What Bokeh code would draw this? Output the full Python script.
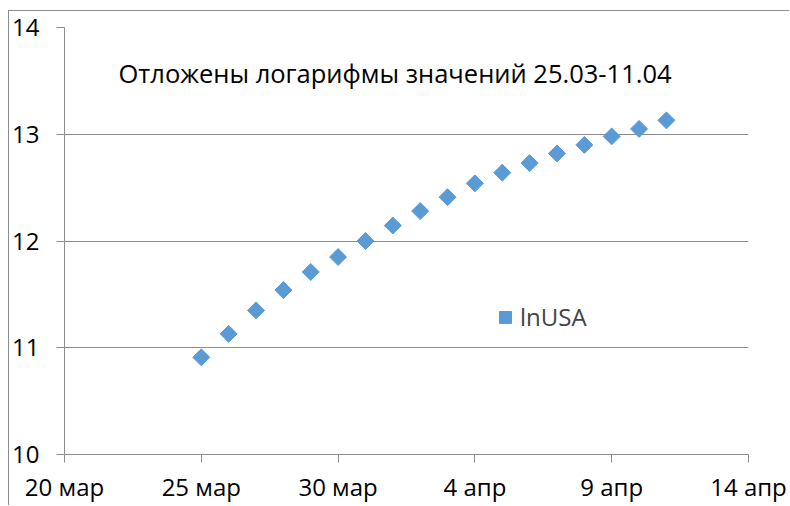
from datetime import datetime, timedelta
import numpy as np
from bokeh.plotting import figure
from bokeh.models import (Range1d, FixedTicker, Label, Legend, LegendItem,
                          ColumnDataSource)
from bokeh.embed import file_html
from bokeh.resources import INLINE

# ---- data ----
start_date = datetime(2020, 3, 25)
dates = [start_date + timedelta(days=i) for i in range(18)]
ln_usa = [10.91, 11.13, 11.35, 11.54, 11.71, 11.85, 12.00, 12.145, 12.28,
          12.41, 12.54, 12.64, 12.73, 12.82, 12.90, 12.98, 13.05, 13.13]
x_tick_dates = [datetime(2020, 3, 20), datetime(2020, 3, 25), datetime(2020, 3, 30),
                datetime(2020, 4, 4), datetime(2020, 4, 9), datetime(2020, 4, 14)]
x_tick_labels = ["20 мар", "25 мар", "30 мар", "4 апр", "9 апр", "14 апр"]
y_ticks = [10, 11, 12, 13, 14]
title_text = "Отложены логарифмы значений 25.03-11.04"
series_name = "lnUSA"

FONT = "Open Sans"
FS = "24px"
GRID = "#8c8c8c"
BLUE = "#5b9bd5"

def ms(d):
    return (d - datetime(1970, 1, 1)).total_seconds() * 1000.0

p = figure(width=781, height=495, output_backend="svg", toolbar_location=None,
           x_axis_type="datetime",
           x_range=Range1d(ms(x_tick_dates[0]), ms(x_tick_dates[-1])),
           y_range=Range1d(y_ticks[0], y_ticks[-1]),
           min_border_left=55, min_border_right=42, min_border_top=16,
           min_border_bottom=52)
p.styles = {"margin-left": "8px", "margin-top": "10px",
            "border-left": "1px solid #8c8c8c", "border-top": "1px solid #8c8c8c"}
p.outline_line_color = None
p.background_fill_color = "white"
p.border_fill_color = "white"

src = ColumnDataSource(dict(x=[ms(d) for d in dates], y=ln_usa))
r = p.scatter("x", "y", source=src, marker="square", size=12, angle=np.pi / 4,
              fill_color=BLUE, line_color=BLUE)

# axes
tick_ms = [ms(d) for d in x_tick_dates]
p.xaxis.ticker = FixedTicker(ticks=tick_ms)
p.xaxis.major_label_overrides = {t: lab for t, lab in zip(tick_ms, x_tick_labels)}
p.yaxis.ticker = FixedTicker(ticks=y_ticks)
for ax in (p.xaxis[0], p.yaxis[0]):
    ax.axis_line_color = GRID
    ax.major_tick_line_color = GRID
    ax.major_tick_in = 0
    ax.major_tick_out = 8
    ax.minor_tick_line_color = None
    ax.major_label_text_font = FONT
    ax.major_label_text_font_size = FS
    ax.major_label_text_color = "black"
p.yaxis.major_label_standoff = 17
p.xaxis.major_label_standoff = 7

p.xgrid.grid_line_color = None
p.ygrid.grid_line_color = GRID
p.ygrid.ticker = FixedTicker(ticks=y_ticks)

# title inside plot
p.add_layout(Label(x=54, y=382, x_units="screen", y_units="screen", text=title_text,
                   text_font=FONT, text_font_size="25.5px", text_baseline="middle",
                   text_color="black"))

legend = Legend(items=[LegendItem(label=series_name, renderers=[r])],
                location=(426, 121), padding=0, margin=0, spacing=0,
                glyph_width=30, glyph_height=30, label_standoff=0,
                label_text_font=FONT, label_text_font_size=FS,
                border_line_color=None, background_fill_alpha=0)
p.add_layout(legend)

open("out.html", "w").write(file_html(p, INLINE))
